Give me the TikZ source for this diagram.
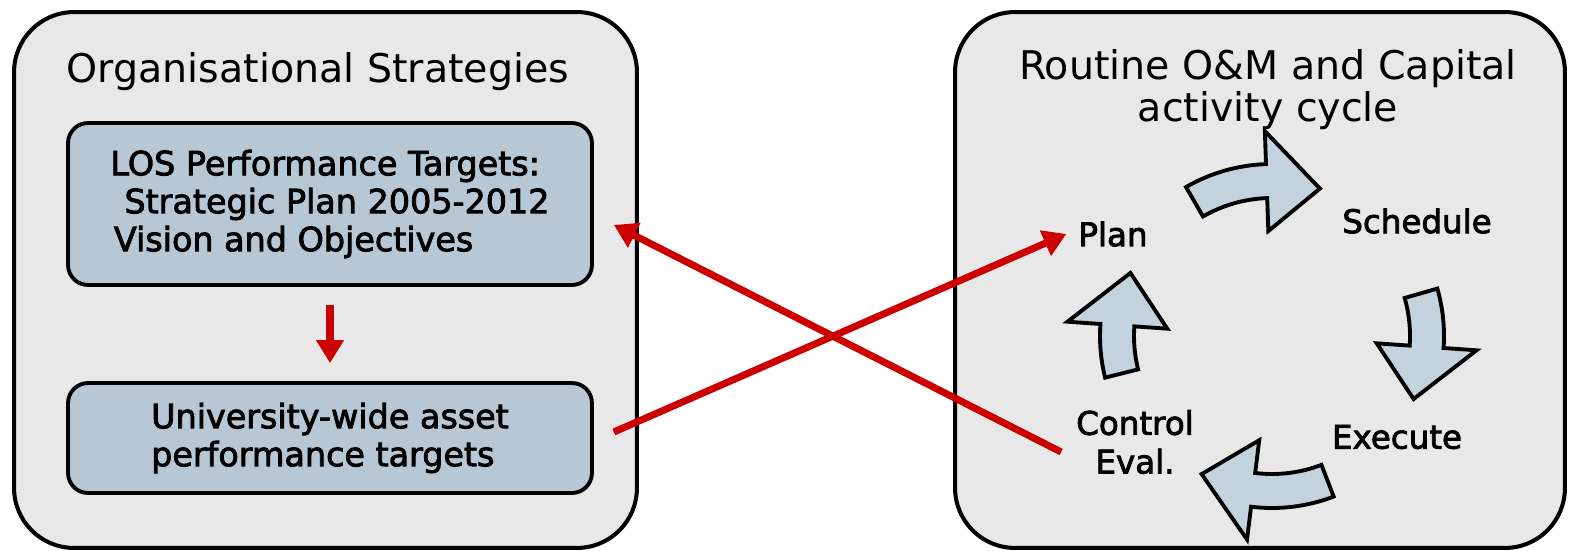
\documentclass[tikz,border=0pt]{standalone}
\usepackage{fontspec}
\setmainfont{DejaVu Sans}
\newfontfamily\boxfont[FakeBold=2.5]{DejaVu Sans}
\usetikzlibrary{arrows.meta,positioning,calc}
\definecolor{panelgray}{RGB}{232,232,232}
\definecolor{boxblue}{RGB}{183,200,212}
\definecolor{cycleblue}{RGB}{195,211,221}
\definecolor{linkred}{RGB}{204,0,0}

\begin{document}
\begin{tikzpicture}[
  x=0.02cm, y=-0.02cm,
  panel/.style={rectangle, rounded corners=1.2cm, draw=black, line width=2.3pt,
    fill=panelgray, minimum width=12.46cm, minimum height=10.72cm},
  block/.style={rectangle, rounded corners=0.4cm, draw=black, line width=2.2pt,
    fill=boxblue, minimum width=10.48cm, align=left,
    font=\boxfont\fontsize{19}{21.6}\selectfont},
  title/.style={align=center, font=\fontsize{22.5}{24}\selectfont},
  stage/.style={align=center, inner sep=1pt, font=\boxfont\fontsize{18.5}{22}\selectfont},
  link/.style={-{Triangle[length=13pt,width=15pt]}, line width=4pt, linkred},
  cycarrow/.style={draw=black, line width=2.2pt, fill=cycleblue, line join=miter}
]
  \useasboundingbox (0,0) rectangle (1572,551);

  %% left panel
  \node[panel] (orgpanel) at (325.5,280) {};
  \node[title] (orgtitle) at (318,72) {Organisational Strategies};
  \node[block, minimum height=3.24cm] (los) at (330,204)
    {LOS Performance Targets:\\\hspace{8pt}Strategic Plan 2005-2012\\\hspace{2pt}Vision and Objectives};
  \node[block, minimum height=2.2cm] (univ) at (330,438)
    {University-wide asset\\performance targets};

  \draw[link, shorten <=0.36cm, shorten >=0.36cm] (los) -- (univ);

  %% right panel
  \node[panel, minimum width=12.2cm] (cyclepanel) at (1260,280) {};
  \node[title] (cycletitle) at (1268,90) {Routine O\&M and Capital\\activity cycle};

  \node[stage] (plan)  at (1113,234) {Plan};
  \node[stage] (sched) at (1417,221) {Schedule};
  \node[stage] (exec)  at (1397,437) {Execute};
  \node[stage] (ctrl)  at (1135,442) {Control\\Eval.};

  %% cycle arrows, tail angle / tip angle
  \coordinate (hub) at (1272,336);
  \foreach \tl/\tp in {120/72, 16/-24, -69/-117, 194/156} {
    \pgfmathsetmacro{\hb}{\tp+20}
    \draw[cycarrow] ($(hub)+(-\tl:138)$) arc[start angle=-\tl, end angle=-\hb, radius=138]
      -- ($(hub)+(-\hb:105)$) -- ($(hub)+(-\tp:155)$) -- ($(hub)+(-\hb:205)$)
      -- ($(hub)+(-\hb:172)$) arc[start angle=-\hb, end angle=-\tl, radius=172] -- cycle;
  }

  %% links between panels
  \draw[link] ([xshift=0.4cm,yshift=0.12cm]univ.east) -- ([xshift=-0.2cm]plan.west);
  \draw[link] ([xshift=-0.26cm,yshift=-0.2cm]ctrl.west) -- ([xshift=0.4cm,yshift=-0.42cm]los.east);
\end{tikzpicture}
\end{document}
